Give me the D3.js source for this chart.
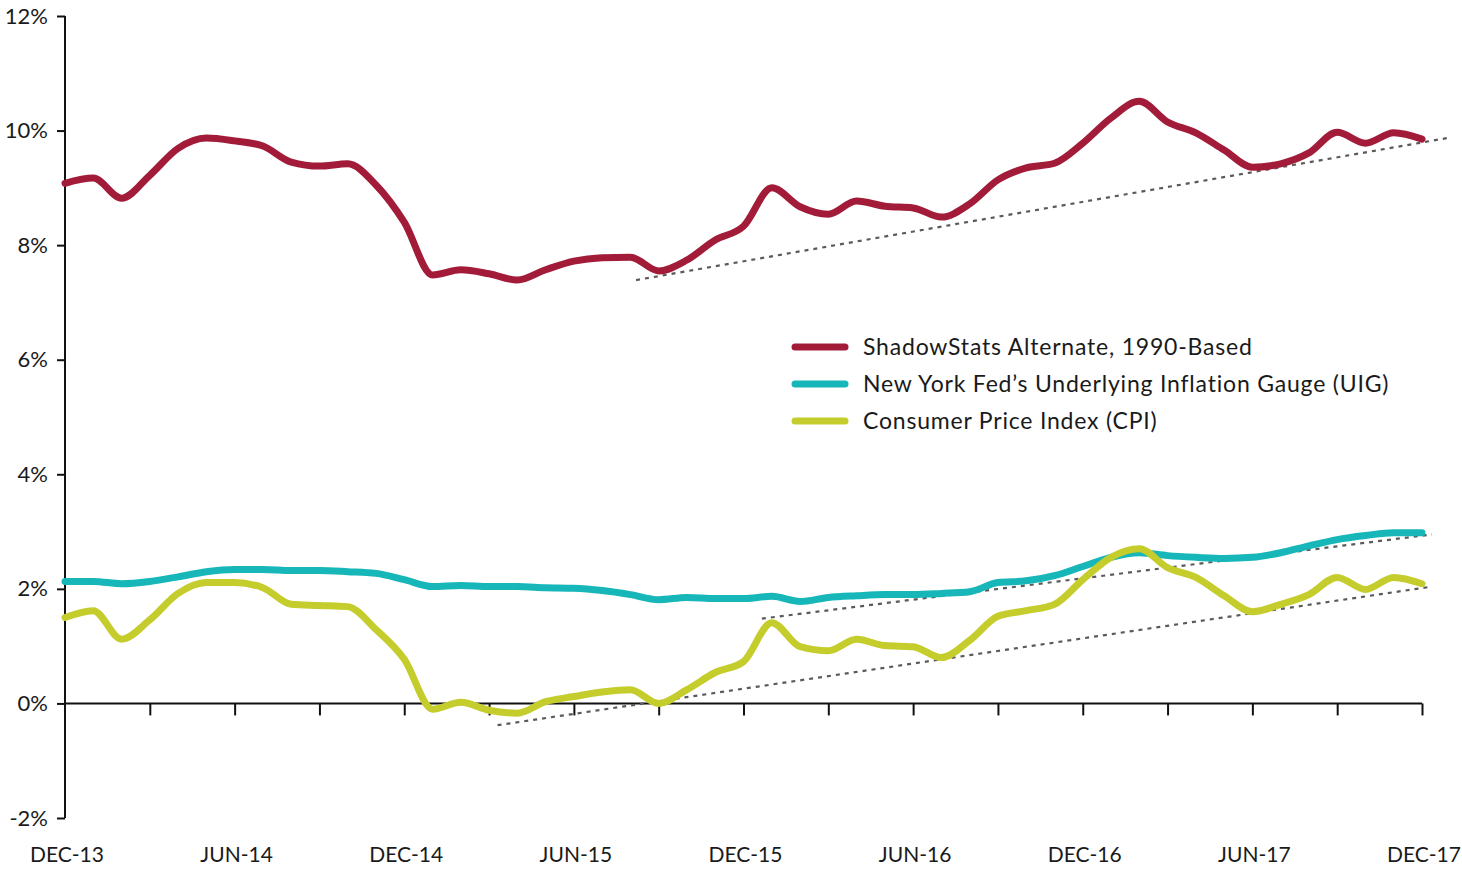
<!DOCTYPE html>
<html>
<head>
<meta charset="utf-8">
<script src="https://cdn.jsdelivr.net/npm/d3@7"></script>
<style>
  body { margin: 0; background: #fff; }
  svg text { font-family: Lato, "Open Sans", sans-serif; fill: #1a1a1a; }
</style>
</head>
<body>
<div id="chart"></div>
<script>
// monthly readings, Dec-13 .. Dec-17 (49 months)
let shadowStats = [9.08, 9.17, 8.82, 9.22, 9.69, 9.87, 9.82, 9.73, 9.45, 9.38, 9.42, 9.05, 8.40,
    7.48, 7.57, 7.50, 7.39, 7.57, 7.72, 7.78, 7.79, 7.55, 7.74, 8.09, 8.33,
    9.00, 8.67, 8.54, 8.77, 8.68, 8.65, 8.49, 8.72, 9.14, 9.35, 9.43, 9.78,
    10.22, 10.51, 10.15, 9.96, 9.66, 9.36, 9.42, 9.61, 9.97, 9.78, 9.96, 9.85];
let uig = [2.13, 2.13, 2.09, 2.13, 2.21, 2.30, 2.34, 2.34, 2.32, 2.32, 2.30, 2.27, 2.16,
    2.04, 2.06, 2.04, 2.04, 2.02, 2.01, 1.97, 1.90, 1.81, 1.85, 1.83, 1.83,
    1.87, 1.78, 1.85, 1.88, 1.90, 1.90, 1.92, 1.95, 2.11, 2.14, 2.23, 2.39,
    2.55, 2.63, 2.58, 2.55, 2.53, 2.55, 2.63, 2.75, 2.86, 2.93, 2.98, 2.98];
let cpi = [1.50, 1.62, 1.12, 1.46, 1.92, 2.11, 2.11, 2.02, 1.73, 1.71, 1.69, 1.29, 0.77,
    -0.10, 0.02, -0.12, -0.17, 0.03, 0.12, 0.20, 0.24, 0.00, 0.24, 0.54, 0.73,
    1.41, 0.99, 0.92, 1.12, 1.01, 0.99, 0.80, 1.10, 1.52, 1.62, 1.73, 2.16,
    2.55, 2.70, 2.37, 2.20, 1.88, 1.60, 1.73, 1.90, 2.20, 1.99, 2.20, 2.09];

let seriesNames = ["ShadowStats Alternate, 1990-Based",
    "New York Fed\u2019s Underlying Inflation Gauge (UIG)",
    "Consumer Price Index (CPI)"];
let seriesColors = ["#a21c3a", "#17b6b9", "#c5cd2d"];

let xTickLabels = ["DEC-13", "JUN-14", "DEC-14", "JUN-15", "DEC-15", "JUN-16", "DEC-16", "JUN-17", "DEC-17"];
let yTicks = [-2, 0, 2, 4, 6, 8, 10, 12];

// trend lines: [month index, value] pairs
let trendShadow = [[20.2, 7.39], [48.9, 9.87]];
let trendUpper = [[24.65, 1.48], [48.35, 2.95]];
let trendLower = [[15.3, -0.38], [48.35, 2.04]];

let width = 1462, height = 869;

let x = d3.scaleLinear().domain([0, 48]).range([65, 1422]);
let y = d3.scaleLinear().domain([-2, 12]).range([818, 16]);

let svg = d3.select('#chart')
    .append("svg")
    .attr("width", width)
    .attr("height", height);

// y axis
let yAxis = svg.append("g")
    .attr("transform", "translate(" + x(0) + ",0)")
    .call(d3.axisLeft(y).tickValues(yTicks).tickSize(8).tickPadding(9)
        .tickFormat(d => d + "%"));
yAxis.selectAll("path, line").attr("stroke", "#111").attr("stroke-width", 2);
yAxis.select(".domain").attr("d", "M0," + y(12) + "V" + y(-2));
yAxis.selectAll("text").style("font-size", "22px").attr("fill", "#1a1a1a");

// x axis on the zero line
let xAxis = svg.append("g")
    .attr("transform", "translate(0," + y(0) + ")")
    .call(d3.axisBottom(x).tickValues(d3.range(3, 49, 3)).tickSize(12).tickFormat(""));
xAxis.selectAll("path, line").attr("stroke", "#111").attr("stroke-width", 2);
xAxis.select(".domain").attr("d", "M" + x(0) + ",0H" + x(48));

// x labels along the bottom
svg.append("g")
    .selectAll("text")
    .data(xTickLabels)
    .enter()
    .append("text")
    .attr("x", (d, i) => x(i * 6) + 2)
    .attr("y", 862)
    .attr("text-anchor", "middle")
    .style("font-size", "21px")
    .text(d => d);

// dotted trend lines
let trendLine = d3.line().x(d => x(d[0])).y(d => y(d[1]));
[trendShadow, trendUpper, trendLower].forEach(t =>
    svg.append("path")
        .attr("d", trendLine(t))
        .attr("fill", "none")
        .attr("stroke", "#5a5a5a")
        .attr("stroke-width", 2.2)
        .attr("stroke-dasharray", "4,5")
);

// series lines
let line = d3.line()
    .x((d, i) => x(i))
    .y(d => y(d))
    .curve(d3.curveMonotoneX);

[shadowStats, uig, cpi].forEach((s, k) =>
    svg.append("path")
        .attr("d", line(s))
        .attr("fill", "none")
        .attr("stroke", seriesColors[k])
        .attr("stroke-width", 7)
        .attr("stroke-linejoin", "round")
        .attr("stroke-linecap", "round")
);

// legend
let legend = svg.append("g").attr("transform", "translate(795,347)");
seriesNames.forEach((n, i) => {
    legend.append("line")
        .attr("x1", 0).attr("x2", 50)
        .attr("y1", i * 37).attr("y2", i * 37)
        .attr("stroke", seriesColors[i])
        .attr("stroke-width", 7)
        .attr("stroke-linecap", "round");
    legend.append("text")
        .attr("x", 68)
        .attr("y", i * 37)
        .attr("dy", "0.35em")
        .style("font-size", "23px")
        .style("letter-spacing", "0.8px")
        .text(n);
});
</script>
</body>
</html>
